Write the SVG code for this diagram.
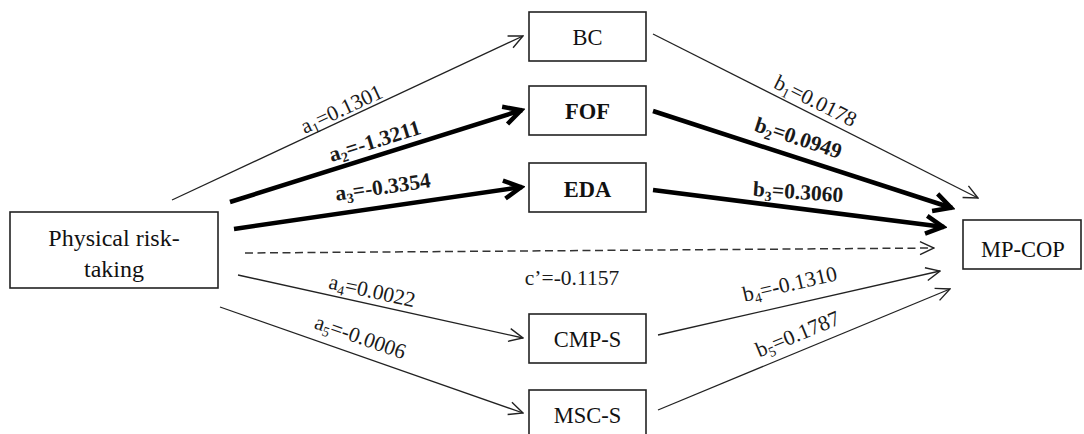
<svg xmlns="http://www.w3.org/2000/svg" width="1084" height="434" viewBox="0 0 1084 434">
<style>
.box{fill:#fff;stroke:#222;stroke-width:1.6}
.t{font-family:"Liberation Serif","Times New Roman",serif;font-size:22.5px;fill:#111;text-anchor:middle}
.b{font-weight:bold}
.lbl{font-family:"Liberation Serif","Times New Roman",serif;font-size:21.5px;fill:#1a1a1a;text-anchor:middle}
.thin{stroke:#222;stroke-width:1.3;fill:none}
.thick{stroke:#000;stroke-width:4.5;fill:none}
.dash{stroke:#333;stroke-width:1.5;fill:none;stroke-dasharray:8 4.5}
</style>
<defs>
<marker id="ah" viewBox="0 0 16 16" refX="15" refY="8" markerWidth="16" markerHeight="16" markerUnits="userSpaceOnUse" orient="auto">
<path d="M1,1.5 L15,8 L1,14.5" fill="none" stroke="#222" stroke-width="1.4"/>
</marker>
<marker id="ahb" viewBox="0 0 24 24" refX="21" refY="12" markerWidth="24" markerHeight="24" markerUnits="userSpaceOnUse" orient="auto">
<path d="M3,3 L20,12 L3,21" fill="none" stroke="#000" stroke-width="4.5" stroke-linejoin="miter"/>
</marker>
</defs>
<rect width="1084" height="434" fill="#fff"/>
<g id="connectors">
<line class="thin" x1="172" y1="200" x2="523" y2="36" marker-end="url(#ah)"/>
<line class="thick" x1="230" y1="202" x2="522" y2="110" marker-end="url(#ahb)"/>
<line class="thick" x1="234" y1="229" x2="522" y2="187" marker-end="url(#ahb)"/>
<line class="dash" x1="245" y1="253" x2="934" y2="248" marker-end="url(#ah)"/>
<line class="thin" x1="238" y1="275" x2="523" y2="338" marker-end="url(#ah)"/>
<line class="thin" x1="220" y1="307" x2="523" y2="413" marker-end="url(#ah)"/>
<line class="thin" x1="653" y1="34" x2="978" y2="198" marker-end="url(#ah)"/>
<line class="thick" x1="653" y1="111" x2="952" y2="208" marker-end="url(#ahb)"/>
<line class="thick" x1="653" y1="190" x2="944" y2="227" marker-end="url(#ahb)"/>
<line class="thin" x1="658" y1="335" x2="940" y2="271" marker-end="url(#ah)"/>
<line class="thin" x1="658" y1="410" x2="950" y2="289" marker-end="url(#ah)"/>
</g>
<g id="labels">
<text class="lbl" transform="translate(342,110) rotate(-25)" y="6">a<tspan font-size="14" dy="4">1</tspan><tspan dy="-4">=0.1301</tspan></text>
<text class="lbl b" transform="translate(375,142) rotate(-17.4)" y="6">a<tspan font-size="14" dy="4">2</tspan><tspan dy="-4">=-1.3211</tspan></text>
<text class="lbl b" transform="translate(383,188) rotate(-8.2)" y="6">a<tspan font-size="14" dy="4">3</tspan><tspan dy="-4">=-0.3354</tspan></text>
<text class="lbl" x="572" y="285">c’=-0.1157</text>
<text class="lbl" transform="translate(372,292) rotate(12.5)" y="6">a<tspan font-size="14" dy="4">4</tspan><tspan dy="-4">=0.0022</tspan></text>
<text class="lbl" transform="translate(360,338) rotate(19.2)" y="6">a<tspan font-size="14" dy="4">5</tspan><tspan dy="-4">=-0.0006</tspan></text>
<text class="lbl" transform="translate(815,102) rotate(26.7)" y="6">b<tspan font-size="14" dy="4">1</tspan><tspan dy="-4">=0.0178</tspan></text>
<text class="lbl b" transform="translate(798,139) rotate(18.2)" y="6">b<tspan font-size="14" dy="4">2</tspan><tspan dy="-4">=0.0949</tspan></text>
<text class="lbl b" transform="translate(798,193) rotate(4)" y="6">b<tspan font-size="14" dy="4">3</tspan><tspan dy="-4">=0.3060</tspan></text>
<text class="lbl" transform="translate(790,285) rotate(-13)" y="6">b<tspan font-size="14" dy="4">4</tspan><tspan dy="-4">=-0.1310</tspan></text>
<text class="lbl" transform="translate(798,335) rotate(-22.5)" y="6">b<tspan font-size="14" dy="4">5</tspan><tspan dy="-4">=0.1787</tspan></text>
</g>
<g id="node-physical">
<rect class="box" x="10" y="212" width="208" height="76"/>
<text class="t" x="114" y="246" style="font-size:24px">Physical risk-</text>
<text class="t" x="114" y="277" style="font-size:24px">taking</text>
</g>
<g id="node-bc">
<rect class="box" x="529" y="12" width="117" height="49"/>
<text class="t" x="587.5" y="45">BC</text>
</g>
<g id="node-fof">
<rect class="box" x="529" y="86" width="117" height="49"/>
<text class="t b" x="587.5" y="119">FOF</text>
</g>
<g id="node-eda">
<rect class="box" x="529" y="163" width="117" height="49"/>
<text class="t b" x="587.5" y="197">EDA</text>
</g>
<g id="node-cmps">
<rect class="box" x="529" y="314" width="117" height="49"/>
<text class="t" x="587.5" y="347">CMP-S</text>
</g>
<g id="node-mscs">
<rect class="box" x="529" y="390" width="117" height="52"/>
<text class="t" x="587.5" y="423">MSC-S</text>
</g>
<g id="node-mpcop">
<rect class="box" x="963" y="220" width="118" height="49"/>
<text class="t" x="1023" y="257">MP-COP</text>
</g>
</svg>
